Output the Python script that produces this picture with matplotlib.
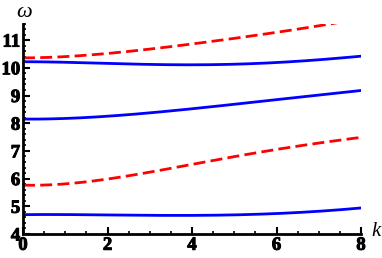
import matplotlib
matplotlib.use("Agg")
import matplotlib.pyplot as plt
import numpy as np
from matplotlib.ticker import MultipleLocator
from matplotlib import font_manager as fm
import matplotlib.patheffects as pe

k_pts = [0, 1, 2, 3, 4, 5, 6, 7, 8]
blue_low = [4.70, 4.70, 4.69, 4.675, 4.67, 4.69, 4.74, 4.82, 4.94]
red_low = [5.76, 5.82, 5.98, 6.22, 6.52, 6.80, 7.05, 7.28, 7.49]
blue_mid = [8.15, 8.17, 8.25, 8.38, 8.52, 8.68, 8.85, 9.02, 9.18]
blue_up = [10.22, 10.20, 10.16, 10.12, 10.11, 10.13, 10.19, 10.29, 10.42]
red_up = [10.36, 10.40, 10.52, 10.68, 10.86, 11.06, 11.28, 11.52, 11.78]

xticks = [0, 2, 4, 6, 8]
yticks = [4, 5, 6, 7, 8, 9, 10, 11]

plt.rcParams['font.family'] = ['Liberation Serif', 'DejaVu Serif']

bold_path = fm.findfont(fm.FontProperties(family='Liberation Serif', weight='bold'))
bold_fp = fm.FontProperties(fname=bold_path, size=13.5)
thick = [pe.withStroke(linewidth=0.7, foreground='black')]

fig = plt.figure(figsize=(3.82, 2.58), dpi=100)
ax = fig.add_axes([23/382, 1-234/258, 338/382, 210.5/258])

kk = np.linspace(0, 8, 200)
def smooth(y):
    c = np.polyfit(k_pts, y, 4)
    return np.polyval(c, kk)

ax.plot(kk, smooth(blue_low), color='#0000ff', lw=2)
ax.plot(kk, smooth(blue_mid), color='#0000ff', lw=2)
ax.plot(kk, smooth(blue_up), color='#0000ff', lw=2)
ax.plot(kk, smooth(red_low), color='#ff0000', lw=2, dashes=(4.3, 1.9))
ax.plot(kk, smooth(red_up), color='#ff0000', lw=2, dashes=(4.3, 1.9))

ax.set_xlim(0, 8)
ax.set_ylim(4, 11.6)
for s in ['top', 'right']:
    ax.spines[s].set_visible(False)
for s in ['left', 'bottom']:
    ax.spines[s].set_linewidth(2)
ax.set_xticks(xticks)
ax.set_yticks(yticks)
ax.set_xticklabels([str(v) for v in xticks], fontproperties=bold_fp)
ax.set_yticklabels([str(v) for v in yticks], fontproperties=bold_fp)
for lab in ax.get_xticklabels() + ax.get_yticklabels():
    lab.set_path_effects(thick)
ax.xaxis.set_minor_locator(MultipleLocator(0.5))
ax.yaxis.set_minor_locator(MultipleLocator(0.2))
ax.tick_params(which='major', direction='in', length=5, width=1.5, pad=2)
ax.tick_params(which='minor', direction='in', length=2.5, width=1.2)

ax.text(-0.15, 12.0, 'ω', fontsize=16, style='italic', fontweight='normal',
        clip_on=False, ha='left', va='center')
ax.text(8.25, 4.1, 'k', fontsize=15, style='italic', fontweight='normal',
        clip_on=False, ha='left', va='center')

fig.savefig('out.png', dpi=100)
